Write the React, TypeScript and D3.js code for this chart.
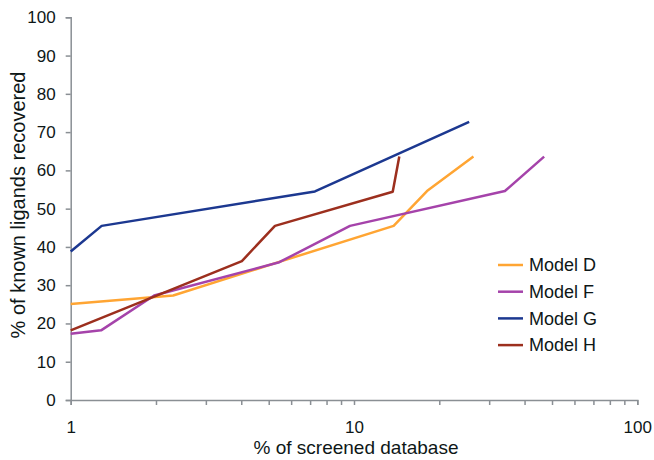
import React, { useEffect, useRef } from 'react';
import * as d3 from 'd3';

const width = 654;
const height = 460;
const margin = { l: 70.7, r: 16.7, t: 17.3, b: 60 };

const modelD = [
  [1, 25.1], [2.3, 27.3], [5.45, 36.1], [13.8, 45.5], [18.1, 54.6], [26.4, 63.6],
];
const modelF = [
  [1, 17.3], [1.28, 18.2], [1.97, 27.3], [5.45, 36.0], [9.68, 45.5], [34.1, 54.6], [46.9, 63.6],
];
const modelG = [
  [1, 38.8], [1.286, 45.5], [7.28, 54.5], [25.5, 72.7],
];
const modelH = [
  [1, 18.2], [4.02, 36.3], [5.26, 45.5], [13.7, 54.4], [14.45, 63.6],
];

const seriesNames = ['Model D', 'Model F', 'Model G', 'Model H'];
const seriesData = [modelD, modelF, modelG, modelH];
const seriesColors = ['#ffa533', '#a543aa', '#1c3890', '#9c2f1e'];

const yTicks = [0, 10, 20, 30, 40, 50, 60, 70, 80, 90, 100];
const xTicks = [1, 2, 3, 4, 5, 6, 7, 8, 9, 10, 20, 30, 40, 50, 60, 70, 80, 90, 100];
const xLabels = [1, 10, 100];

const font = '"Liberation Sans", Arial, Helvetica, sans-serif';
const textColor = '#0e1717';

export default function App() {
  const innerW = width - margin.l - margin.r;
  const innerH = height - margin.t - margin.b;

  const xScale = d3.scaleLog().domain([1, 100]).range([0, innerW]);
  const yScale = d3.scaleLinear().domain([0, 100]).range([innerH, 0]);

  const $xAxis: any = useRef(null);
  const $yAxis: any = useRef(null);

  useEffect(() => {
    const yAxis = d3.axisLeft(yScale).tickValues(yTicks).tickSize(5).tickPadding(10);
    const gy = d3.select($yAxis.current);
    gy.call(yAxis as any);
    gy.select('.domain').attr('stroke', '#8a8f94').attr('stroke-width', 1.5);
    gy.selectAll('.tick line').attr('stroke', '#8a8f94').attr('stroke-width', 1.5);
    gy.selectAll('.tick text')
      .attr('font-size', 17)
      .attr('font-family', font)
      .attr('fill', textColor);

    const xAxis = d3
      .axisBottom(xScale)
      .tickValues(xTicks)
      .tickSize(5)
      .tickPadding(16)
      .tickFormat((d: any) => (xLabels.includes(d) ? String(d) : ''));
    const gx = d3.select($xAxis.current);
    gx.call(xAxis as any);
    gx.select('.domain').attr('stroke', '#8a8f94').attr('stroke-width', 1.5);
    gx.selectAll('.tick line').attr('stroke', '#8a8f94').attr('stroke-width', 1.5);
    gx.selectAll('.tick text')
      .attr('font-size', 17)
      .attr('font-family', font)
      .attr('fill', textColor);
  }, [xScale, yScale]);

  const line = d3
    .line<number[]>()
    .x((d) => xScale(d[0]))
    .y((d) => yScale(d[1]));

  return (
    <svg
      width={width}
      height={height}
      style={{ position: 'absolute', left: 0, top: 0, background: '#fff' }}
    >
      <g transform={`translate(${margin.l},${margin.t})`}>
        <g ref={$yAxis} />
        <g ref={$xAxis} transform={`translate(0,${innerH})`} />
        {seriesData.map((d, i) => (
          <path
            key={seriesNames[i]}
            d={line(d as any) as string}
            fill="none"
            stroke={seriesColors[i]}
            strokeWidth={2.5}
            strokeLinejoin="round"
          />
        ))}
      </g>

      {/* legend */}
      <g transform="translate(498,265)" fontFamily={font}>
        {seriesNames.map((name, i) => (
          <g key={name} transform={`translate(0,${i * 26.7})`}>
            <line x1={0} x2={25} y1={0} y2={0} stroke={seriesColors[i]} strokeWidth={2.5} />
            <text x={31} y={0} dy="0.35em" fontSize={18} fill={textColor}>
              {name}
            </text>
          </g>
        ))}
      </g>

      <text
        x={356}
        y={454}
        textAnchor="middle"
        fontSize={19}
        fontFamily={font}
        fill={textColor}
      >
        % of screened database
      </text>
      <text
        transform="translate(25,205) rotate(-90)"
        textAnchor="middle"
        fontSize={20}
        fontFamily={font}
        fill={textColor}
      >
        % of known ligands recovered
      </text>
    </svg>
  );
}
